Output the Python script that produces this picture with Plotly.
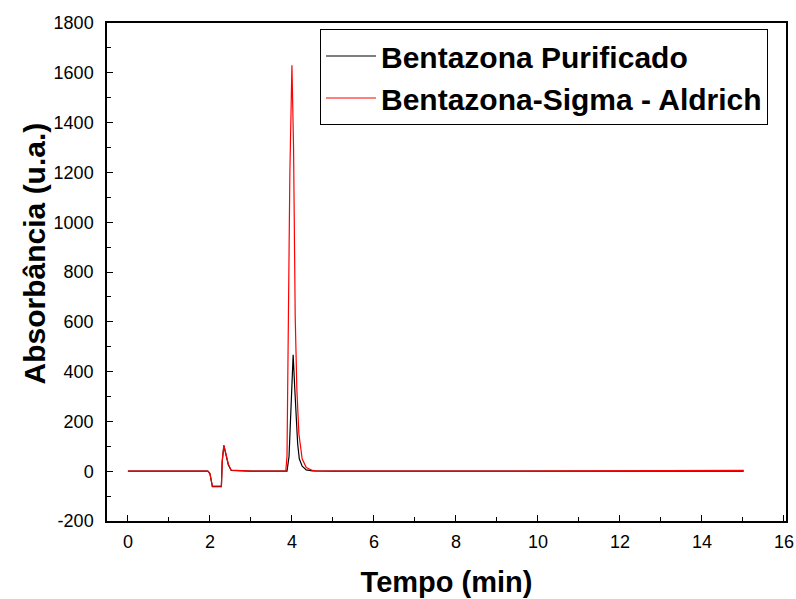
import plotly.graph_objects as go

# Bentazona Purificado (black)
t_black = [0.0, 1.0, 1.9, 1.95, 2.0, 2.03, 2.06, 2.28, 2.30, 2.34, 2.38, 2.45, 2.52, 2.6, 2.65, 2.72, 2.85, 3.0,
           3.5, 3.88, 3.93, 3.97, 4.03, 4.07, 4.10, 4.14, 4.18, 4.25, 4.35, 4.5, 5.0, 6.0, 8.0, 10.0, 12.0, 13.0, 15.02]
a_black = [0, 0, 0, 0, -10, -30, -62, -62, 40, 103, 70, 25, 3, 2, 4, 2, 1, 0,
           0, 0, 60, 250, 468, 330, 220, 110, 50, 20, 5, 1, 0, 0, 0, 0, 0, 0, 0]

# Bentazona-Sigma - Aldrich (red)
t_red = [0.0, 1.0, 1.9, 1.95, 2.0, 2.03, 2.06, 2.28, 2.30, 2.34, 2.38, 2.45, 2.52, 2.6, 2.65, 2.72, 2.85, 3.0,
         3.5, 3.85, 3.88, 3.91, 3.95, 4.0, 4.04, 4.08, 4.12, 4.17, 4.25, 4.35, 4.5, 4.6, 5.0, 6.0, 8.0, 10.0,
         12.0, 12.5, 13.0, 15.02]
a_red = [0, 0, 0, 0, -8, -28, -60, -60, 40, 105, 72, 28, 4, 3, 5, 3, 1, 0,
         0, 0, 60, 600, 1200, 1630, 1300, 620, 330, 150, 50, 15, 3, 1, 0, 0, 0, 0,
         1, 3, 3, 3]

y_ticks = [-200, 0, 200, 400, 600, 800, 1000, 1200, 1400, 1600, 1800]
y_tick_labels = ["-200", "0", "200", "400", "600", "800", "1000", "1200", "1400", "1600", "1800"]
x_ticks = [0, 2, 4, 6, 8, 10, 12, 14, 16]

FONT = "Liberation Sans, Arial"

fig = go.Figure()
fig.add_trace(go.Scatter(x=t_black, y=a_black, mode="lines", name="Bentazona Purificado",
                         line=dict(color="#000000", width=1.2)))
fig.add_trace(go.Scatter(x=t_red, y=a_red, mode="lines", name="Bentazona-Sigma - Aldrich",
                         line=dict(color="#ff0000", width=1.2)))

axis_common = dict(showline=True, linecolor="black", linewidth=1.5, mirror=True,
                   ticks="inside", ticklen=6, tickwidth=1.2, tickcolor="black",
                   showgrid=False, zeroline=False, automargin=False,
                   tickfont=dict(family=FONT, size=18, color="black"))

fig.update_xaxes(range=[-0.51, 16.05], tickvals=x_ticks, ticklabelstandoff=4,
                 minor=dict(dtick=1, ticks="inside", ticklen=4, tickcolor="black", tickwidth=1.2),
                 title=dict(text="<b>Tempo (min)</b>", font=dict(family=FONT, size=29, color="black"),
                            standoff=20),
                 **axis_common)
fig.update_yaxes(range=[-200, 1800], tickvals=y_ticks, ticktext=y_tick_labels, ticklabelstandoff=8,
                 minor=dict(dtick=100, ticks="inside", ticklen=4, tickcolor="black", tickwidth=1.2),
                 **axis_common)

fig.add_annotation(text="<b>Absorbância (u.a.)</b>", textangle=-90,
                   xref="paper", yref="paper", x=-0.107, y=0.538,
                   xanchor="center", yanchor="middle", showarrow=False,
                   font=dict(family=FONT, size=30, color="black"))

fig.update_layout(
    width=796, height=599,
    margin=dict(l=107, r=10, t=23, b=78),
    plot_bgcolor="white", paper_bgcolor="white",
    font=dict(family=FONT, color="black"),
    legend=dict(x=0.3137, y=0.988, xanchor="left", yanchor="top",
                bgcolor="white", bordercolor="black", borderwidth=1,
                font=dict(family=FONT, size=30, color="black", weight="bold"),
                tracegroupgap=0, itemwidth=50),
    showlegend=True,
)

fig.write_html("out.html")
